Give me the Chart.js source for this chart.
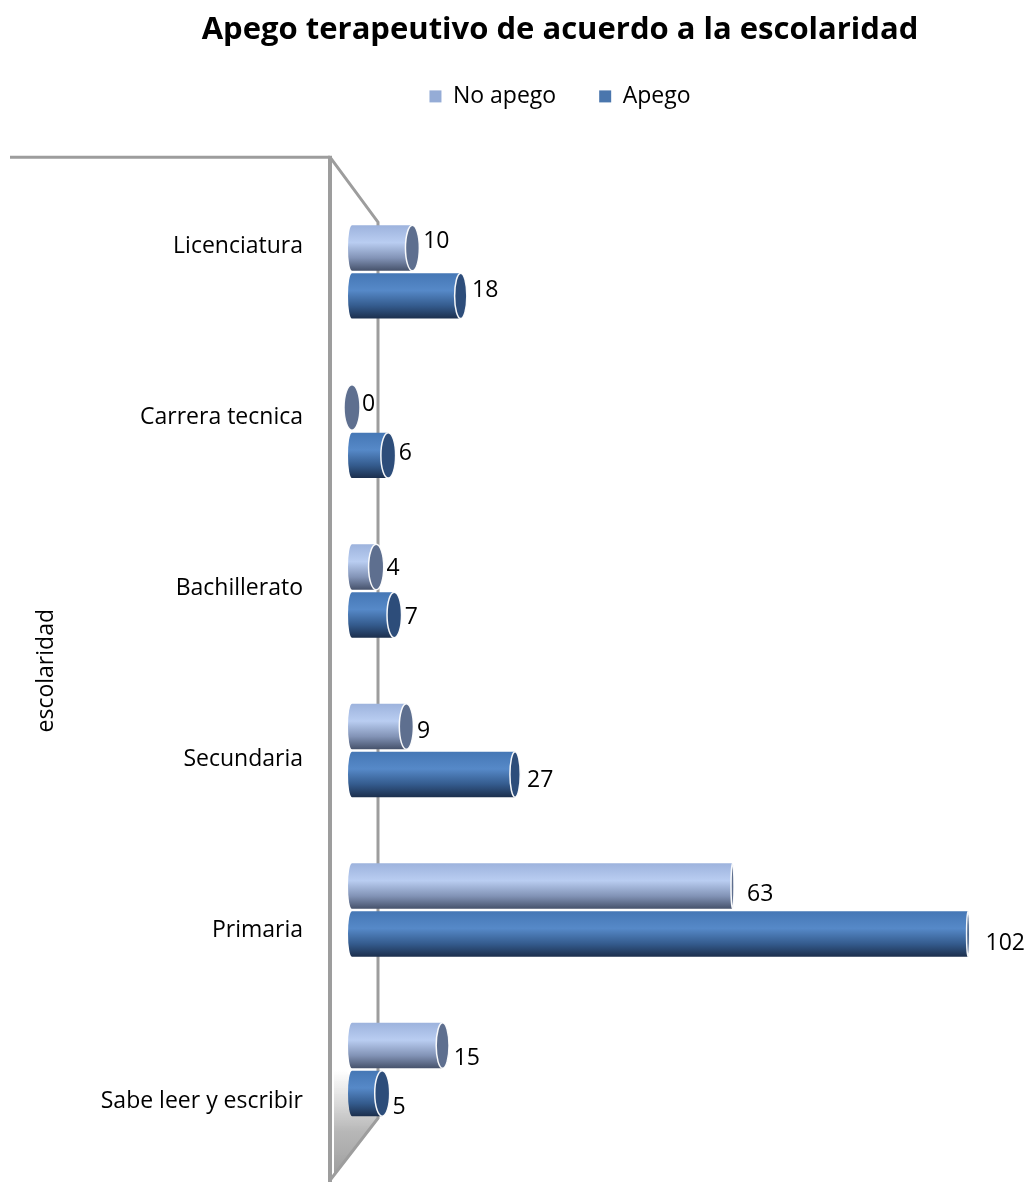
<!DOCTYPE html>
<html lang="es">
<head>
<meta charset="utf-8">
<title>Apego terapeutivo de acuerdo a la escolaridad</title>
<script src="https://cdn.jsdelivr.net/npm/chart.js@4/dist/chart.umd.min.js"></script>
<style>
  html, body { margin: 0; padding: 0; background: #ffffff; }
  #wrap { width: 1031px; height: 1182px; position: relative; }
</style>
</head>
<body>
<div id="wrap"><canvas id="chart"></canvas></div>
<script>
// Data
const categories = ['Licenciatura', 'Carrera tecnica', 'Bachillerato', 'Secundaria', 'Primaria', 'Sabe leer y escribir'];
const seriesNames = ['No apego', 'Apego'];
const noApego = [10, 0, 4, 9, 63, 15];
const apego = [18, 6, 7, 27, 102, 5];
const categoryTicks = [0, 1, 2, 3, 4, 5];

const FONT = '"Open Sans", "DejaVu Sans", sans-serif';
Chart.defaults.font.family = FONT;
Chart.defaults.color = '#000000';

// Range of the label axis: the labels sit on the front wall, slightly more spread than the bars
const LABEL_MIN = -0.3166;
const LABEL_MAX = 5.278;

// Cylinder shading per series: vertical gradient for the body, flat colour for the end cap
const cylinderStyles = [
  { stops: [[0, '#9db3dd'], [0.38, '#b9cdf1'], [0.72, '#8293b6'], [1, '#46526b']], cap: '#5e6f8f' },
  { stops: [[0, '#4577b5'], [0.38, '#5689c8'], [0.72, '#345b8d'], [1, '#1c2f4d']], cap: '#2d4d7a' }
];

// End caps get narrower the further right they are (perspective)
function capRadius(x, area) {
  return Math.max(1.5, 8 - (x - area.left) * 0.0175);
}

// Side wall, floor and back edge of the 3D frame
const frame3d = {
  id: 'frame3d',
  beforeDatasetsDraw(chart) {
    const { ctx, chartArea: a } = chart;
    const frontX = a.left - 22;
    const backX = a.left + 26;
    const wallTop = a.top - 35;
    const backTop = a.top + 30;
    const backBottom = a.bottom - 31;
    const floorY = a.bottom + 31;
    ctx.save();

    // floor shadow
    const sg = ctx.createLinearGradient(0, backBottom - 48, 0, floorY);
    sg.addColorStop(0, 'rgba(170,170,170,0)');
    sg.addColorStop(0.55, 'rgba(160,160,160,0.75)');
    sg.addColorStop(1, 'rgba(150,150,150,0.95)');
    ctx.fillStyle = sg;
    ctx.beginPath();
    ctx.moveTo(frontX + 4, backBottom - 48);
    ctx.lineTo(frontX + 16, backBottom - 48);
    ctx.lineTo(backX, backBottom);
    ctx.lineTo(frontX + 4, floorY - 4);
    ctx.closePath();
    ctx.fill();

    ctx.strokeStyle = '#9d9d9d';
    ctx.lineCap = 'butt';
    ctx.lineJoin = 'miter';

    // back edge
    ctx.lineWidth = 3;
    ctx.beginPath();
    ctx.moveTo(frontX, wallTop);
    ctx.lineTo(backX, backTop);
    ctx.lineTo(backX, backBottom);
    ctx.lineTo(frontX, floorY);
    ctx.stroke();

    // top edge of the side wall
    ctx.lineWidth = 3;
    ctx.beginPath();
    ctx.moveTo(10, wallTop);
    ctx.lineTo(frontX, wallTop);
    ctx.stroke();

    // front edge
    ctx.lineWidth = 4;
    ctx.beginPath();
    ctx.moveTo(frontX, wallTop - 1.5);
    ctx.lineTo(frontX, chart.height);
    ctx.stroke();
    ctx.restore();
  }
};

// Bars drawn as horizontal cylinders, with value labels
const cylinders = {
  id: 'cylinders',
  beforeDatasetDraw() {
    return false;
  },
  afterDatasetsDraw(chart) {
    const { ctx, chartArea: a } = chart;
    const midY = (a.top + a.bottom) / 2;
    const spanY = a.bottom - a.top;
    ctx.save();
    chart.data.datasets.forEach((ds, di) => {
      const meta = chart.getDatasetMeta(di);
      const style = cylinderStyles[di];
      meta.data.forEach((bar) => {
        const { x, y, base, height } = bar.getProps(['x', 'y', 'base', 'height'], true);
        const r = height / 2;
        const top = y - r;
        const bot = y + r;

        // body
        const g = ctx.createLinearGradient(0, top, 0, bot);
        style.stops.forEach(([o, c]) => g.addColorStop(o, c));
        ctx.fillStyle = g;
        ctx.beginPath();
        ctx.moveTo(x, top);
        ctx.lineTo(base, top);
        ctx.ellipse(base, y, 4, r, 0, -Math.PI / 2, Math.PI / 2, true);
        ctx.lineTo(x, bot);
        ctx.closePath();
        ctx.fill();

        // end cap
        const rx = capRadius(x, a);
        ctx.beginPath();
        ctx.ellipse(x, y, rx, r, 0, 0, Math.PI * 2);
        ctx.fillStyle = style.cap;
        ctx.fill();
        ctx.lineWidth = 1.5;
        ctx.strokeStyle = 'rgba(255,255,255,0.95)';
        ctx.stroke();
      });
    });

    // value labels
    ctx.font = '23px ' + FONT;
    ctx.fillStyle = '#000000';
    ctx.textAlign = 'left';
    ctx.textBaseline = 'middle';
    chart.data.datasets.forEach((ds, di) => {
      const meta = chart.getDatasetMeta(di);
      meta.data.forEach((bar, i) => {
        const { x, y } = bar.getProps(['x', 'y'], true);
        const tx = x + 10 + (x - a.left) * 0.012;
        const ty = y + ((y - midY) / spanY) * 23 + 3.6;
        ctx.fillText(String(ds.data[i]), tx, ty);
      });
    });
    ctx.restore();
  }
};

new Chart(document.getElementById('chart'), {
  type: 'bar',
  data: {
    labels: categories,
    datasets: [
      { label: seriesNames[0], data: noApego, backgroundColor: '#95acd6', borderWidth: 0 },
      { label: seriesNames[1], data: apego, backgroundColor: '#4a76ad', borderWidth: 0 }
    ]
  },
  options: {
    indexAxis: 'y',
    responsive: true,
    maintainAspectRatio: false,
    animation: false,
    devicePixelRatio: 1,
    categoryPercentage: 0.6,
    barPercentage: 0.95,
    layout: { padding: { left: 90, right: 1, top: 0, bottom: 32.75 } },
    scales: {
      x: {
        type: 'linear',
        position: 'top',
        min: 0,
        max: 112.25,
        grid: { display: false, drawTicks: false },
        border: { display: false },
        ticks: { display: false },
        afterFit(scale) { scale.height = 74.3; }
      },
      y: {
        type: 'category',
        offset: true,
        display: false
      },
      y2: {
        type: 'linear',
        position: 'left',
        reverse: true,
        offset: false,
        bounds: 'data',
        min: LABEL_MIN,
        max: LABEL_MAX,
        afterBuildTicks(scale) {
          scale.ticks = categoryTicks.map(v => ({ value: v }));
          scale.min = LABEL_MIN;
          scale.max = LABEL_MAX;
        },
        afterFit(scale) {
          scale.width = 262;
          scale.paddingTop = 0;
          scale.paddingBottom = 0;
        },
        grid: { display: false, drawTicks: false, offset: false },
        border: { display: false },
        ticks: {
          padding: 49,
          autoSkip: false,
          maxRotation: 0,
          color: '#000000',
          font: { size: 23 },
          callback: (v) => categories[v]
        },
        title: {
          display: true,
          text: 'escolaridad',
          color: '#000000',
          font: { size: 23 },
          padding: { top: -57.4, bottom: 0 }
        }
      }
    },
    plugins: {
      title: {
        display: true,
        text: 'Apego terapeutivo de acuerdo a la escolaridad',
        color: '#000000',
        font: { size: 31, weight: 'bold' },
        padding: { top: 11.9, bottom: -7.2 }
      },
      legend: {
        position: 'top',
        labels: {
          boxWidth: 12,
          boxHeight: 12,
          padding: 43,
          color: '#000000',
          font: { size: 23 }
        }
      },
      tooltip: { enabled: false }
    }
  },
  plugins: [frame3d, cylinders]
});
</script>
</body>
</html>
